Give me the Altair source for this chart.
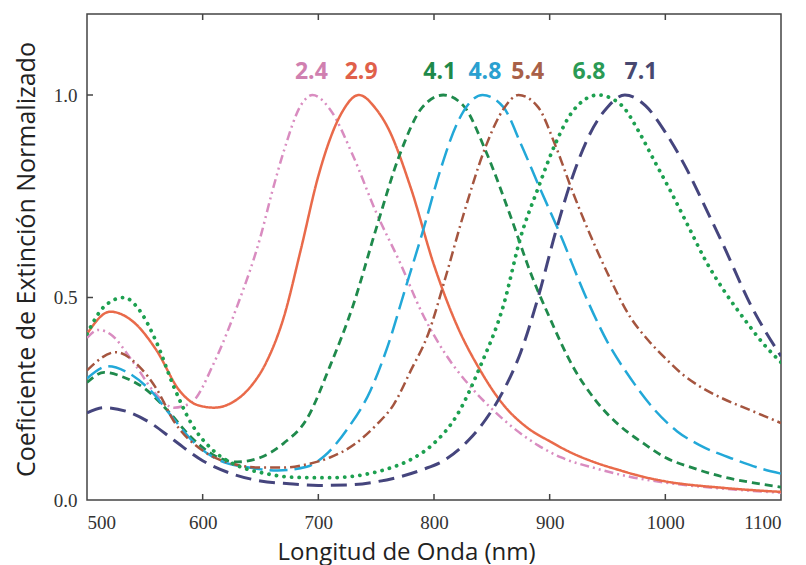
import altair as alt
import pandas as pd

# ---- data ----
series_names = ["2.4", "2.9", "4.1", "4.8", "5.4", "6.8", "7.1"]

wl_24 = [500, 510, 520, 540, 560, 575, 590, 610, 630, 650, 660, 670, 685, 695, 710, 730, 750, 770, 790, 810, 830, 850, 870, 890, 910, 940, 970, 1000, 1050, 1100]
v_24 = [0.40, 0.42, 0.41, 0.34, 0.26, 0.228, 0.24, 0.34, 0.48, 0.65, 0.76, 0.86, 0.975, 1.0, 0.965, 0.85, 0.71, 0.59, 0.46, 0.36, 0.285, 0.225, 0.175, 0.135, 0.105, 0.078, 0.057, 0.043, 0.028, 0.018]

wl_29 = [500, 520, 540, 560, 580, 595, 610, 625, 640, 655, 670, 685, 700, 720, 735, 750, 760, 780, 800, 820, 840, 860, 880, 900, 920, 940, 960, 980, 1000, 1050, 1100]
v_29 = [0.41, 0.465, 0.44, 0.37, 0.27, 0.235, 0.228, 0.24, 0.275, 0.34, 0.45, 0.62, 0.80, 0.955, 1.0, 0.965, 0.92, 0.77, 0.58, 0.43, 0.32, 0.235, 0.18, 0.145, 0.115, 0.092, 0.074, 0.058, 0.046, 0.03, 0.02]

wl_41 = [500, 515, 530, 550, 570, 590, 610, 630, 650, 670, 690, 710, 730, 750, 770, 790, 808, 825, 845, 865, 885, 900, 920, 940, 960, 980, 1000, 1025, 1050, 1075, 1100]
v_41 = [0.29, 0.315, 0.305, 0.275, 0.22, 0.155, 0.11, 0.094, 0.105, 0.14, 0.2, 0.33, 0.48, 0.67, 0.85, 0.97, 1.0, 0.975, 0.86, 0.71, 0.55, 0.45, 0.33, 0.245, 0.185, 0.142, 0.105, 0.078, 0.057, 0.043, 0.032]

wl_48 = [500, 518, 535, 555, 575, 595, 615, 640, 665, 690, 705, 725, 745, 760, 775, 790, 805, 820, 842, 860, 875, 890, 910, 930, 950, 970, 990, 1010, 1030, 1060, 1080, 1100]
v_48 = [0.30, 0.33, 0.315, 0.27, 0.20, 0.135, 0.097, 0.08, 0.073, 0.082, 0.108, 0.175, 0.27, 0.38, 0.52, 0.66, 0.81, 0.93, 1.0, 0.97, 0.88, 0.78, 0.65, 0.51, 0.39, 0.30, 0.225, 0.17, 0.135, 0.1, 0.08, 0.065]

wl_54 = [500, 525, 545, 560, 575, 600, 625, 650, 670, 690, 710, 730, 750, 765, 780, 795, 810, 825, 845, 860, 873, 890, 905, 920, 935, 950, 970, 985, 1000, 1015, 1030, 1050, 1075, 1100]
v_54 = [0.32, 0.365, 0.33, 0.275, 0.195, 0.122, 0.09, 0.08, 0.08, 0.088, 0.105, 0.135, 0.185, 0.235, 0.32, 0.41, 0.55, 0.7, 0.875, 0.965, 1.0, 0.97, 0.875, 0.76, 0.655, 0.56, 0.45, 0.395, 0.35, 0.31, 0.28, 0.25, 0.22, 0.19]

wl_68 = [500, 515, 532, 545, 560, 575, 590, 610, 630, 655, 680, 710, 740, 760, 780, 800, 820, 840, 860, 875, 890, 905, 920, 942, 962, 977, 990, 1005, 1020, 1035, 1050, 1070, 1085, 1100]
v_68 = [0.41, 0.478, 0.50, 0.47, 0.39, 0.28, 0.19, 0.12, 0.085, 0.065, 0.056, 0.055, 0.063, 0.077, 0.1, 0.14, 0.21, 0.33, 0.48, 0.65, 0.77, 0.88, 0.96, 1.0, 0.975, 0.91, 0.84, 0.76, 0.675, 0.59, 0.52, 0.44, 0.385, 0.34]

wl_71 = [500, 515, 535, 555, 575, 600, 625, 650, 675, 700, 725, 750, 770, 790, 810, 830, 845, 860, 875, 890, 905, 920, 935, 950, 965, 983, 1000, 1017, 1035, 1050, 1075, 1100]
v_71 = [0.215, 0.228, 0.218, 0.19, 0.148, 0.097, 0.065, 0.047, 0.04, 0.036, 0.037, 0.045, 0.057, 0.075, 0.1, 0.148, 0.2, 0.27, 0.365, 0.5, 0.66, 0.8, 0.905, 0.97, 1.0, 0.973, 0.908, 0.825, 0.72, 0.63, 0.475, 0.355]

# annotation anchors (wavelength, value) for the numeric labels
label_wl = [694, 737, 805, 844, 881, 934, 979]
label_v = [1.057, 1.057, 1.057, 1.057, 1.057, 1.057, 1.057]

x_ticks = [500, 600, 700, 800, 900, 1000, 1100]
y_ticks = [0.0, 0.5, 1.0]

# ---- styles ----
line_colors = ["#d98cc0", "#e96a4a", "#1f8a4c", "#22a8d8", "#a5553f", "#1da050", "#45457d"]
label_colors = ["#d080b0", "#e0604a", "#1e8a4a", "#2aa0d0", "#a86048", "#2a9a55", "#484870"]
dashes = [[9, 4, 2, 4, 2, 4], [1, 0], [8, 5], [18, 7], [10, 4, 2, 4], [0.1, 7.5], [16, 8]]
widths = [2.5, 2.5, 2.8, 2.5, 2.5, 3.8, 3.0]
caps = ["butt", "butt", "butt", "butt", "butt", "round", "butt"]

W, H = 694, 486
xs = alt.Scale(domain=[500, 1100], nice=False, zero=False)
ys = alt.Scale(domain=[0, 1.2], nice=False, zero=False)

xaxis = alt.Axis(values=x_ticks, format="d", ticks=False, domain=False, grid=False,
                 labelFont="Liberation Serif", labelFontSize=19, labelColor="#333333",
                 labelPadding=13, title="Longitud de Onda (nm)", titleFont="Open Sans",
                 titleFontSize=24, titleFontWeight="normal", titleColor="#222222",
                 titleX=319, titleY=59, titleBaseline="alphabetic", titleAlign="center")
yaxis = alt.Axis(values=y_ticks, format=".1f", ticks=False, domain=False, grid=False,
                 labelFont="Liberation Serif", labelFontSize=19, labelColor="#333333",
                 labelPadding=10, title="Coeficiente de Extinción Normalizado", titleFont="Open Sans",
                 titleFontSize=25, titleFontWeight="normal", titleColor="#222222",
                 titleX=-61, titleY=245, titleBaseline="middle", titleAlign="center", titleAngle=270)

all_wl = [wl_24, wl_29, wl_41, wl_48, wl_54, wl_68, wl_71]
all_v = [v_24, v_29, v_41, v_48, v_54, v_68, v_71]


def X(field):
    return alt.X(field, scale=xs, axis=xaxis)


def Y(field):
    return alt.Y(field, scale=ys, axis=yaxis)


layers = []
for i, name in enumerate(series_names):
    df = pd.DataFrame({"wl": all_wl[i], "v": all_v[i]})
    layers.append(
        alt.Chart(df).mark_line(color=line_colors[i], strokeDash=dashes[i], strokeWidth=widths[i],
                                strokeCap=caps[i], interpolate="monotone", clip=True)
        .encode(x=X("wl:Q"), y=Y("v:Q"))
    )

lab_df = pd.DataFrame({"wl": label_wl, "v": label_v, "t": series_names})
labels = alt.Chart(lab_df).mark_text(font="Open Sans", fontSize=23, fontWeight="bold",
                                     baseline="middle", align="center").encode(
    x=X("wl:Q"),
    y=Y("v:Q"),
    text="t:N",
    color=alt.Color("t:N", scale=alt.Scale(domain=series_names, range=label_colors), legend=None),
)

# inward tick marks
inner_x = pd.DataFrame({"wl": x_ticks[1:-1]})
inner_y = pd.DataFrame({"v": y_ticks[1:]})
tick_col = "#444444"
bottom_ticks = alt.Chart(inner_x).mark_rule(color=tick_col, strokeWidth=1.5).encode(
    x=X("wl:Q"), y=alt.value(H), y2=alt.value(H - 6))
top_ticks = alt.Chart(inner_x).mark_rule(color=tick_col, strokeWidth=1.5).encode(
    x=X("wl:Q"), y=alt.value(0), y2=alt.value(6))
left_ticks = alt.Chart(inner_y).mark_rule(color=tick_col, strokeWidth=1.5).encode(
    y=Y("v:Q"), x=alt.value(0), x2=alt.value(6))

chart = alt.layer(*layers, labels, bottom_ticks, top_ticks, left_ticks).properties(
    width=W, height=H,
    autosize=alt.AutoSizeParams(type="none"),
    padding={"left": 79, "top": 6, "right": 17, "bottom": 65},
    background="white",
).configure_view(stroke="#444444", strokeWidth=1.5)

chart.save("out.html", embed_options={"renderer": "svg", "actions": False})
